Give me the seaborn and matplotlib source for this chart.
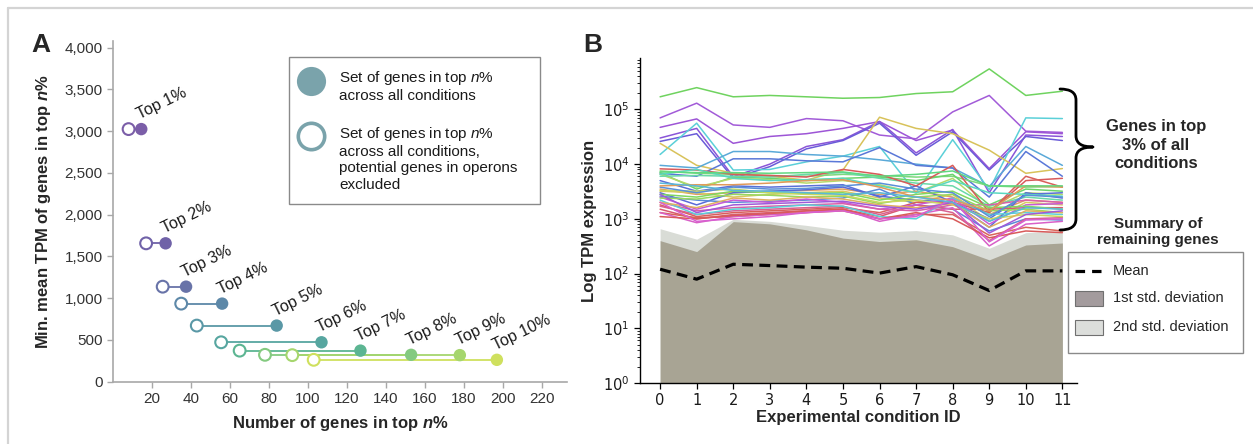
import numpy as np
import pandas as pd
import matplotlib
matplotlib.use("Agg")
import matplotlib.pyplot as plt
import seaborn as sns
from matplotlib.patches import Rectangle, PathPatch
from matplotlib.lines import Line2D
from matplotlib.path import Path
import matplotlib.ticker as mticker

# ---------------- Panel A data ----------------
top_labels = ["Top 1%", "Top 2%", "Top 3%", "Top 4%", "Top 5%",
              "Top 6%", "Top 7%", "Top 8%", "Top 9%", "Top 10%"]
genes_all_conditions = [14.5, 27, 37.5, 56, 84, 107, 127, 153, 178, 197]
genes_no_operons = [8, 17, 25.5, 35, 43, 55.5, 65, 78, 92, 103]
min_mean_tpm = [3025, 1657, 1138, 935, 672, 472, 372, 322, 318, 262]
colors_a = ["#7b5ea8", "#7062a8", "#6873a8", "#5d88a8", "#5a98a6",
            "#57a6a0", "#5cb592", "#84ca80", "#a6d66e", "#cfe05e"]

# ---------------- Panel B data ----------------
conditions = list(range(12))
condition_labels = [str(c) for c in conditions]
log_tick_values = [1, 10, 100, 1000, 10000, 100000]
log_tick_labels = ["$\\mathrm{10^{0}}$", "$\\mathrm{10^{1}}$", "$\\mathrm{10^{2}}$",
                   "$\\mathrm{10^{3}}$", "$\\mathrm{10^{4}}$", "$\\mathrm{10^{5}}$"]
mean_tpm = [120, 79, 148, 140, 131, 125, 102, 134, 95, 49, 112, 112]
std1_upper = [400, 252, 890, 810, 630, 445, 385, 415, 310, 178, 333, 362]
std2_upper = [660, 425, 980, 900, 760, 620, 570, 610, 510, 290, 560, 600]

top_gene_tpm = [
    [170000, 250000, 170000, 180000, 170000, 160000, 165000, 195000, 210000, 550000, 180000, 215000],
    [70000, 130000, 52000, 47000, 68000, 62000, 34000, 29000, 90000, 180000, 40000, 38000],
    [47000, 67000, 24000, 32000, 36000, 45000, 60000, 27000, 42000, 8300, 39000, 36000],
    [30000, 45000, 5900, 10000, 21000, 28000, 60000, 16000, 43000, 3000, 34000, 32000],
    [26000, 36000, 5500, 9000, 19000, 27000, 56000, 14500, 39000, 7800, 32000, 27000],
    [15000, 56000, 7800, 8000, 11000, 14000, 21000, 3000, 28000, 3400, 70000, 68000],
    [24000, 9500, 6800, 6000, 5100, 7800, 72000, 45000, 36000, 18000, 6800, 8300],
    [9500, 8500, 17000, 17000, 15000, 14000, 12000, 10000, 8500, 3900, 21000, 9500],
    [6800, 6000, 12500, 12500, 11500, 11000, 20000, 9500, 8500, 2500, 17000, 6000],
    [7500, 6800, 6500, 6200, 6000, 6500, 6200, 5800, 6000, 4000, 3800, 3900],
    [7000, 3500, 5800, 5500, 5000, 5500, 5800, 5000, 6500, 1800, 3500, 3200],
    [6500, 3800, 5500, 5200, 4500, 5000, 4200, 3000, 5500, 1500, 3000, 2800],
    [6000, 6200, 6000, 5800, 6500, 7000, 5500, 4500, 4000, 1700, 2500, 2200],
    [3500, 2800, 3000, 3200, 3300, 3500, 2800, 3200, 2500, 1200, 2200, 2000],
    [3200, 3000, 2500, 2800, 3000, 3200, 2400, 2000, 2800, 900, 2000, 1800],
    [5000, 3200, 4000, 3800, 4000, 4200, 2500, 4000, 2000, 1000, 2800, 3000],
    [3000, 1800, 3000, 3200, 3400, 3800, 2600, 2200, 2000, 700, 3000, 2400],
    [2600, 2200, 2000, 2100, 2200, 2400, 3500, 1800, 1500, 600, 1000, 950],
    [8200, 7800, 6500, 6200, 5800, 8000, 6500, 4000, 9500, 1300, 5000, 5500],
    [1800, 1100, 1300, 1400, 1500, 1600, 1300, 2000, 2000, 1300, 6000, 3800],
    [1500, 1000, 1200, 1300, 1400, 1500, 1100, 1800, 1500, 1500, 1600, 1600],
    [1300, 1050, 1100, 1200, 1300, 1400, 1000, 1200, 1200, 500, 700, 600],
    [1300, 850, 1100, 1200, 1300, 1500, 900, 1200, 1600, 320, 800, 900],
    [1700, 1200, 1400, 1500, 1600, 1700, 1200, 1800, 1300, 400, 1000, 1050],
    [2500, 1500, 2200, 2000, 2300, 2000, 1500, 1800, 2400, 800, 1800, 1900],
    [2000, 1400, 1600, 1700, 1800, 1900, 1500, 1400, 1800, 1800, 2200, 2000],
    [2200, 1200, 1500, 1600, 1800, 1700, 1100, 1000, 2400, 1200, 1300, 1200],
    [6500, 8000, 5500, 5000, 5200, 5500, 4000, 3000, 5000, 3000, 2800, 2600],
    [2800, 2500, 3200, 3000, 2900, 3000, 2200, 2800, 3200, 1600, 1700, 1500],
    [2400, 2300, 2800, 2700, 2500, 2600, 1900, 2500, 2800, 1400, 1500, 1300],
    [3300, 3200, 3500, 3000, 2800, 2700, 2000, 2200, 1800, 1000, 1200, 1100],
    [2000, 1600, 2400, 2200, 2500, 2300, 1800, 1600, 1900, 700, 1400, 1300],
    [2800, 1300, 1800, 1900, 2000, 2100, 1700, 1500, 2000, 550, 1200, 1400],
    [3800, 3000, 3800, 3500, 3600, 4000, 4500, 3500, 3000, 1100, 2700, 2500],
    [1100, 1000, 1150, 1250, 1400, 1500, 1000, 1300, 1000, 450, 600, 560],
    [4000, 4200, 4200, 4500, 5000, 5200, 3800, 2500, 2200, 1400, 4000, 3800],
    [7200, 7000, 7000, 6800, 7000, 7200, 6000, 6500, 7500, 4000, 4000, 4000],
    [2000, 900, 1000, 1100, 1300, 1400, 1000, 1100, 2300, 380, 950, 1000],
    [4500, 4000, 3300, 3200, 3000, 2800, 3000, 2500, 2000, 900, 1600, 1500],
]
top_gene_colors = [
    "#6fd35f", "#a25bd8", "#9d55d6", "#8a55d8", "#6a5bd8", "#5bd0d8", "#d8c25a",
    "#5aa9d8", "#5a78d8", "#7dd87d", "#6cd46c", "#b5d86a", "#6ad8a8", "#e0a060",
    "#d8c860", "#5a70d8", "#5a6ad8", "#5a8ad8", "#d85a5a", "#d8605a", "#d85a70",
    "#d8665a", "#d860c8", "#d86090", "#c85ad8", "#d860a8", "#5ad0d8", "#5ad8c0",
    "#80d860", "#98d860", "#c8d860", "#e0b060", "#a05ad8", "#5a90d8", "#d85a5a",
    "#e09a5a", "#60d880", "#d860d0", "#5ab8d8",
]

# ---------------- style ----------------
sns.set_theme(style="white")
plt.rcParams["font.family"] = ["Liberation Sans", "DejaVu Sans"]
plt.rcParams["mathtext.fontset"] = "custom"
plt.rcParams["mathtext.rm"] = "DejaVu Sans"
plt.rcParams["mathtext.it"] = "Liberation Sans:italic"
plt.rcParams["mathtext.bf"] = "Liberation Sans:bold"
plt.rcParams["mathtext.bfit"] = "Liberation Sans:bold:italic"

W, H = 1253, 444
fig = plt.figure(figsize=(W / 100, H / 100), dpi=100)
fig.patch.set_facecolor("white")


def fx(px):
    return px / W


def fy(py):
    return 1 - py / H


# outer frame
fig.add_artist(Line2D([fx(8), fx(8)], [fy(8), 0], color="#d4d4d4", lw=1.6))
fig.add_artist(Line2D([fx(8), 1], [fy(8), fy(8)], color="#d4d4d4", lw=1.6))

# ---------------- Panel A ----------------
axA = fig.add_axes([fx(113), fy(381.7), 454 / W, (381.7 - 41) / H])
dfA = pd.DataFrame({"label": top_labels, "all": genes_all_conditions,
                    "no_op": genes_no_operons, "tpm": min_mean_tpm})
for xo, xf, yv, c in zip(genes_no_operons, genes_all_conditions, min_mean_tpm, colors_a):
    axA.plot([xo, xf], [yv, yv], color=c, lw=1.3, zorder=1)
axA.scatter(dfA["no_op"], dfA["tpm"], s=72, facecolors="white",
            edgecolors=colors_a, linewidths=1.5, zorder=2)
sns.scatterplot(data=dfA, x="all", y="tpm", hue="label", palette=colors_a,
                s=80, linewidth=0, legend=False, ax=axA, zorder=3)
for lab, xf, yv in zip(top_labels, genes_all_conditions, min_mean_tpm):
    axA.annotate(lab, (xf, yv), xytext=(0, 5), textcoords="offset points",
                 rotation=26, rotation_mode="anchor", ha="left", va="bottom",
                 fontsize=11.5, color="#1a1a1a")
axA.set_xlim(0, 233)
axA.set_ylim(0, 4080)
axA.set_xticks(range(20, 221, 20))
axA.set_yticks(range(0, 4001, 500))
axA.yaxis.set_major_formatter(mticker.StrMethodFormatter("{x:,.0f}"))
for s in ["top", "right"]:
    axA.spines[s].set_visible(False)
for s in ["left", "bottom"]:
    axA.spines[s].set_color("#a8a8a8")
    axA.spines[s].set_linewidth(1.2)
axA.tick_params(axis="both", which="major", direction="out", length=4,
                width=1, color="#a8a8a8", labelsize=11, labelcolor="#333333",
                bottom=True, left=True)
axA.set_xlabel("Number of genes in top $\\mathbfit{n}$%", fontsize=12,
               fontweight="bold", labelpad=6)
axA.set_ylabel("Min. mean TPM of genes in top $\\mathbfit{n}$%", fontsize=12,
               fontweight="bold", labelpad=8)
axA.patch.set_alpha(0)

# legend A (manual)
fig.add_artist(Rectangle((fx(289), fy(204)), (540 - 289) / W, (204 - 57) / H,
                         transform=fig.transFigure, fill=False,
                         edgecolor="#8a8a8a", lw=1.0))
fig.add_artist(Line2D([fx(311)], [fy(81)], marker="o", ms=21, color="#7aa3ab",
                      mec="none", ls="none", transform=fig.transFigure))
fig.add_artist(Line2D([fx(311)], [fy(136)], marker="o", ms=19, mfc="white",
                      mec="#7aa3ab", mew=2.6, ls="none", transform=fig.transFigure))
fig.text(fx(339), fy(69), "Set of genes in top $\\mathit{n}$%\nacross all conditions",
         fontsize=11, va="top", ha="left", color="#1a1a1a", linespacing=1.2)
fig.text(fx(339), fy(125), "Set of genes in top $\\mathit{n}$%\nacross all conditions,\n"
         "potential genes in operons\nexcluded",
         fontsize=11, va="top", ha="left", color="#1a1a1a", linespacing=1.2)

fig.text(fx(41), fy(45), "A", fontsize=19, fontweight="bold", ha="center", va="center")
fig.text(fx(593), fy(45), "B", fontsize=19, fontweight="bold", ha="center", va="center")

# ---------------- Panel B ----------------
axB = fig.add_axes([fx(640), fy(383), 437 / W, (383 - 58) / H])
axB.fill_between(conditions, 1, std2_upper, color="#d9dcd6", lw=0, zorder=1)
axB.fill_between(conditions, 1, std1_upper, color="#a8a494", lw=0, zorder=2)

rows = []
for gi, vals in enumerate(top_gene_tpm):
    for c, v in zip(conditions, vals):
        rows.append({"gene": f"g{gi}", "condition": c, "tpm": v})
dfB = pd.DataFrame(rows)
palette_b = {f"g{gi}": col for gi, col in enumerate(top_gene_colors)}
sns.lineplot(data=dfB, x="condition", y="tpm", hue="gene", palette=palette_b,
             estimator=None, lw=1.1, legend=False, ax=axB, zorder=3)
sns.lineplot(x=conditions, y=mean_tpm, color="black", lw=2.3, ax=axB,
             dashes=False, zorder=4).lines[-1].set_dashes((3.4, 2.0))

axB.set_yscale("log")
axB.set_ylim(1, 8.7e5)
axB.set_xlim(-0.55, 11.4)
axB.set_xticks(conditions, labels=condition_labels)
axB.set_yticks(log_tick_values, labels=log_tick_labels)
axB.yaxis.set_minor_locator(mticker.LogLocator(base=10, subs=np.arange(2, 10), numticks=20))
axB.yaxis.set_minor_formatter(mticker.NullFormatter())
for s in ["top", "right"]:
    axB.spines[s].set_visible(False)
for s in ["left", "bottom"]:
    axB.spines[s].set_color("black")
    axB.spines[s].set_linewidth(1.0)
axB.tick_params(axis="both", which="major", direction="out", length=4, width=0.9,
                color="black", labelsize=10.5, labelcolor="#1a1a1a",
                bottom=True, left=True)
axB.tick_params(axis="y", which="minor", direction="out", length=2, width=0.6,
                color="black", left=True)
for t in axB.get_xticklabels() + axB.get_yticklabels():
    t.set_fontfamily("DejaVu Sans")
axB.set_xlabel("Experimental condition ID", fontsize=12, fontweight="bold", labelpad=1)
axB.set_ylabel("Log TPM expression", fontsize=12, fontweight="bold", labelpad=4)
axB.patch.set_alpha(0)

# brace
bx0, bx1, bx2 = fx(1060), fx(1076), fx(1093)
ytop, ymid, ybot = fy(89), fy(147), fy(230)
dy = 11 / H
verts = [(bx0, ytop), (bx1, ytop), (bx1, ytop - dy),
         (bx1, ymid + dy),
         (bx1, ymid), (bx2, ymid),
         (bx1, ymid), (bx1, ymid - dy),
         (bx1, ybot + dy),
         (bx1, ybot), (bx0, ybot)]
codes = [Path.MOVETO, Path.CURVE3, Path.CURVE3,
         Path.LINETO,
         Path.CURVE3, Path.CURVE3,
         Path.CURVE3, Path.CURVE3,
         Path.LINETO,
         Path.CURVE3, Path.CURVE3]
fig.add_artist(PathPatch(Path(verts, codes), transform=fig.transFigure,
                         fill=False, lw=2.0, edgecolor="black", capstyle="round",
                         joinstyle="round"))

fig.text(fx(1156), fy(145), "Genes in top\n3% of all\nconditions", fontsize=12,
         fontweight="bold", ha="center", va="center", linespacing=1.3)
fig.text(fx(1158), fy(232), "Summary of\nremaining genes", fontsize=11,
         fontweight="bold", ha="center", va="center", linespacing=1.2)

# legend B (manual)
fig.add_artist(Rectangle((fx(1068), fy(353)), (1243 - 1068) / W, (353 - 252) / H,
                         transform=fig.transFigure, fill=False,
                         edgecolor="#8a8a8a", lw=1.0))
ln = Line2D([fx(1075), fx(1101)], [fy(271), fy(271)], color="black", lw=2.3,
            transform=fig.transFigure)
ln.set_dashes((3.0, 2.2))
fig.add_artist(ln)
fig.add_artist(Rectangle((fx(1075), fy(306)), 28 / W, 15 / H, transform=fig.transFigure,
                         facecolor="#a39b9d", edgecolor="#707070", lw=0.8))
fig.add_artist(Rectangle((fx(1075), fy(335)), 28 / W, 15 / H, transform=fig.transFigure,
                         facecolor="#dcdedb", edgecolor="#707070", lw=0.8))
fig.text(fx(1113), fy(271), "Mean", fontsize=10.5, va="center", ha="left")
fig.text(fx(1113), fy(298), "1st std. deviation", fontsize=10.5, va="center", ha="left")
fig.text(fx(1113), fy(327), "2nd std. deviation", fontsize=10.5, va="center", ha="left")

fig.savefig("out.png", dpi=100)
